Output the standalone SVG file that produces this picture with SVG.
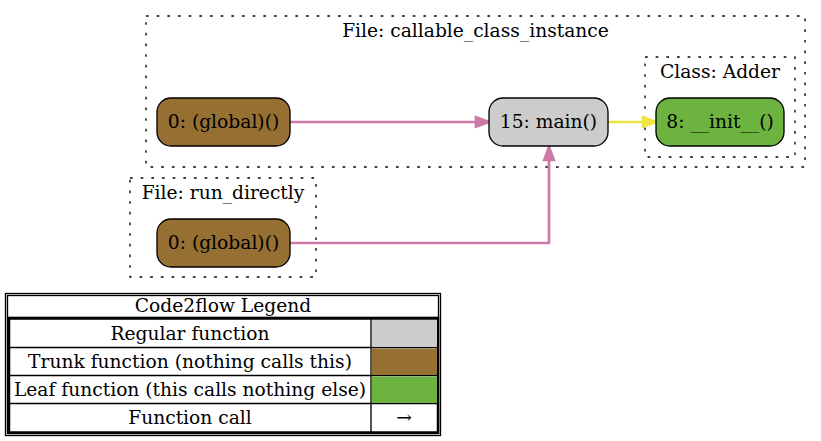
<svg xmlns="http://www.w3.org/2000/svg" width="821" height="441" viewBox="0 0 821 441">
<style>
text{font-family:"DejaVu Serif","Liberation Serif",serif;font-size:18.67px;fill:#000;text-anchor:middle}
.cl{fill:none;stroke:#000;stroke-width:1.33;stroke-dasharray:2.67 8}
.nd{stroke:#000;stroke-width:1.33}
.trunk{fill:#966f33}.reg{fill:#cccccc}.leaf{fill:#6db33f}
.e{fill:none;stroke-width:2.67}
.ah{stroke-width:2.67}
.pink{stroke:#cc79a7}.yel{stroke:#f0e442}
.ahp{fill:#cc79a7}.ahy{fill:#f0e442}
.lg{fill:none;stroke:#000;stroke-width:1.33}
</style>
<rect width="821" height="441" fill="#fff"/>
<g id="cluster_callable_class_instance">
<rect class="cl" x="146" y="16" width="659" height="151"/>
<text x="475.5" y="37">File: callable_class_instance</text>
</g>
<g id="cluster_Adder">
<rect class="cl" x="645" y="57" width="150" height="100"/>
<text x="720" y="78">Class: Adder</text>
</g>
<g id="cluster_run_directly">
<rect class="cl" x="130" y="178" width="186" height="99"/>
<text x="223" y="199">File: run_directly</text>
</g>
<g id="connectors">
<path class="e pink" d="M290,122 L476,122"/>
<polygon class="ah pink ahp" points="476,117.3 489,122 476,126.7"/>
<path class="e yel" d="M608,122 L643,122"/>
<polygon class="ah yel ahy" points="643,117.3 656,122 643,126.7"/>
<path class="e pink" d="M290,243 L549,243 L549,160"/>
<polygon class="ah pink ahp" points="544.3,160 549,147 553.7,160"/>
</g>
<g id="node_global_cci">
<rect class="nd trunk" x="157" y="98" width="133" height="48" rx="14"/>
<text x="223.5" y="128">0: (global)()</text>
</g>
<g id="node_main">
<rect class="nd reg" x="489" y="98" width="119" height="48" rx="14"/>
<text x="548.5" y="128">15: main()</text>
</g>
<g id="node_init">
<rect class="nd leaf" x="656" y="98" width="128" height="48" rx="14"/>
<text x="720" y="128">8: __init__()</text>
</g>
<g id="node_global_rd">
<rect class="nd trunk" x="157" y="219" width="133" height="48" rx="14"/>
<text x="223.5" y="249">0: (global)()</text>
</g>
<g id="legend">
<rect class="lg" x="5.5" y="293.5" width="435" height="142"/>
<rect class="lg" x="7.5" y="295.5" width="431" height="22"/>
<rect class="lg" x="7.5" y="317.5" width="431" height="116"/>
<rect x="9" y="318.5" width="429" height="114" fill="none" stroke="#000" stroke-width="2.5"/>
<path class="lg" d="M371,319 V432 M9,347.5 H438 M9,375.5 H438 M9,403.5 H438"/>
<rect x="372" y="320" width="65" height="27" fill="#cccccc"/>
<rect x="372" y="348.5" width="65" height="26.5" fill="#966f33"/>
<rect x="372" y="376.5" width="65" height="26.5" fill="#6db33f"/>
<text x="223" y="312">Code2flow Legend</text>
<text x="190" y="340">Regular function</text>
<text x="190" y="368">Trunk function (nothing calls this)</text>
<text x="190" y="396">Leaf function (this calls nothing else)</text>
<text x="190" y="424">Function call</text>
<text x="404" y="424">→</text>
</g>
</svg>
